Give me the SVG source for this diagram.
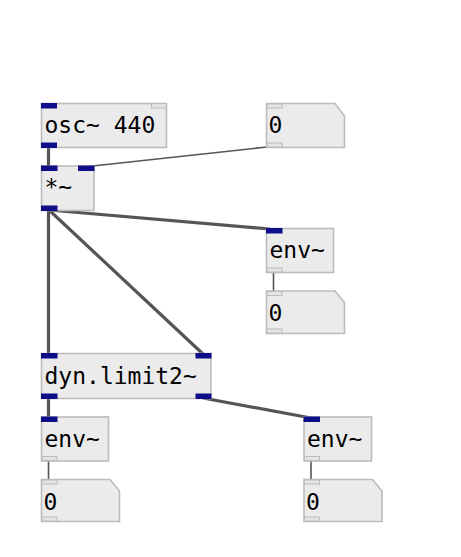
<svg xmlns="http://www.w3.org/2000/svg" width="461" height="557" viewBox="0 0 461 557">
<style>
.box{fill:#ebebeb;stroke:#bcbcbc;stroke-width:1.6}
.sig{fill:#0e0e8a}
.ctl{fill:#e4e4e4;stroke:#bcbcbc;stroke-width:1}
.t{font-family:"DejaVu Sans Mono","Liberation Mono",monospace;font-size:23px;fill:#000}
.ws{stroke:#555;stroke-width:3.2;fill:none}
.wc{stroke:#555;stroke-width:1.6;fill:none}
</style>
<rect width="461" height="557" fill="#fff"/>
<g id="connectors">
<line class="ws" x1="48.5" y1="147" x2="48.5" y2="167"/>
<line class="wc" x1="267" y1="147" x2="88" y2="166.5"/>
<line class="ws" x1="49" y1="210" x2="270" y2="229"/>
<line class="ws" x1="48.5" y1="210" x2="48.5" y2="354"/>
<line class="ws" x1="49" y1="210" x2="203" y2="354"/>
<line class="wc" x1="273.5" y1="272" x2="273.5" y2="291"/>
<line class="ws" x1="48.5" y1="398" x2="48.5" y2="418"/>
<line class="ws" x1="203" y1="398" x2="311" y2="418"/>
<line class="wc" x1="48.5" y1="461" x2="48.5" y2="480"/>
<line class="wc" x1="311" y1="461" x2="311" y2="480"/>
</g>
<g id="osc">
<rect class="box" x="41.5" y="103.5" width="125" height="44"/>
<rect class="sig" x="41" y="103" width="16" height="5.5"/>
<rect class="ctl" x="151.5" y="103.5" width="15" height="4.5"/>
<rect class="sig" x="41" y="142.5" width="16" height="5.5"/>
<text class="t" x="44.5" y="132.5">osc~ 440</text>
</g>
<g id="num1">
<path class="box" d="M266.5,103.5 H335 L344.5,116 V147.5 H266.5 Z"/>
<rect class="ctl" x="267" y="104" width="15" height="4"/>
<rect class="ctl" x="267" y="143" width="15" height="4"/>
<text class="t" x="268.5" y="132.5">0</text>
</g>
<g id="mul">
<rect class="box" x="41.5" y="166" width="52.5" height="44.5"/>
<rect class="sig" x="41" y="165.5" width="16.5" height="5.5"/>
<rect class="sig" x="78" y="165.5" width="16.5" height="5.5"/>
<rect class="sig" x="41" y="205.5" width="16.5" height="5.5"/>
<text class="t" x="44.5" y="195">*~</text>
</g>
<g id="envR">
<rect class="box" x="266.5" y="228.5" width="67" height="44"/>
<rect class="sig" x="266" y="228" width="16.5" height="5.5"/>
<rect class="ctl" x="267" y="268" width="15" height="4"/>
<text class="t" x="269.5" y="257.5">env~</text>
</g>
<g id="numR">
<path class="box" d="M266.5,291 H335 L344.5,302.5 V333.5 H266.5 Z"/>
<rect class="ctl" x="267" y="291.5" width="15" height="4"/>
<rect class="ctl" x="267" y="329" width="15" height="4"/>
<text class="t" x="268.5" y="320.5">0</text>
</g>
<g id="dyn">
<rect class="box" x="41.5" y="353.5" width="169.5" height="45"/>
<rect class="sig" x="41" y="353" width="16.5" height="5.5"/>
<rect class="sig" x="195.5" y="353" width="16" height="5.5"/>
<rect class="sig" x="41" y="393.5" width="16.5" height="5.5"/>
<rect class="sig" x="195.5" y="393.5" width="16" height="5.5"/>
<text class="t" x="44.5" y="383.5">dyn.limit2~</text>
</g>
<g id="envL">
<rect class="box" x="41.5" y="417" width="67" height="44"/>
<rect class="sig" x="41" y="416.5" width="16.5" height="5.5"/>
<rect class="ctl" x="42" y="456.5" width="15" height="4"/>
<text class="t" x="44.5" y="446.5">env~</text>
</g>
<g id="numL">
<path class="box" d="M41.5,479.5 H110 L119.5,491 V521.5 H41.5 Z"/>
<rect class="ctl" x="42" y="480" width="15" height="4"/>
<rect class="ctl" x="42" y="517" width="15" height="4"/>
<text class="t" x="43.5" y="509.5">0</text>
</g>
<g id="envR2">
<rect class="box" x="304" y="417" width="67.5" height="44"/>
<rect class="sig" x="303.5" y="416.5" width="16.5" height="5.5"/>
<rect class="ctl" x="304.5" y="456.5" width="15" height="4"/>
<text class="t" x="307" y="446.5">env~</text>
</g>
<g id="numR2">
<path class="box" d="M304,479.5 H372.5 L382,491 V521.5 H304 Z"/>
<rect class="ctl" x="304.5" y="480" width="15" height="4"/>
<rect class="ctl" x="304.5" y="517" width="15" height="4"/>
<text class="t" x="306" y="509.5">0</text>
</g>
</svg>
